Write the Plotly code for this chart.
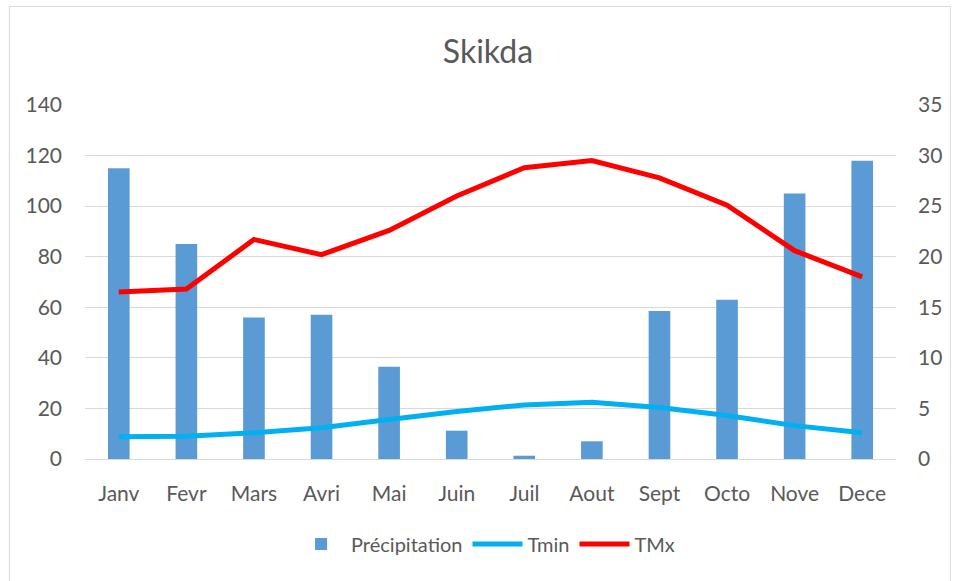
import plotly.graph_objects as go

months = ["Janv", "Fevr", "Mars", "Avri", "Mai", "Juin", "Juil", "Aout", "Sept", "Octo", "Nove", "Dece"]
precipitation = [115, 85, 56, 57, 36.5, 11.2, 1.3, 7, 58.5, 63, 105, 118]
tmin = [2.2, 2.25, 2.6, 3.1, 3.9, 4.7, 5.35, 5.6, 5.1, 4.3, 3.3, 2.6]
tmx = [16.5, 16.8, 21.7, 20.2, 22.6, 26.0, 28.8, 29.5, 27.8, 25.1, 20.6, 18.0]
left_ticks = [0, 20, 40, 60, 80, 100, 120, 140]
right_ticks = [0, 5, 10, 15, 20, 25, 30, 35]

font_family = "Lato, Open Sans, sans-serif"
text_color = "#595959"

fig = go.Figure()
fig.add_trace(go.Bar(x=months, y=precipitation, name="Précipitation",
                     marker=dict(color="#5b9bd5", line=dict(width=0)), width=0.32))
fig.add_trace(go.Scatter(x=months, y=tmin, name="Tmin", mode="lines", yaxis="y2",
                         line=dict(color="#00b0f0", width=5)))
fig.add_trace(go.Scatter(x=months, y=tmx, name="TMx", mode="lines", yaxis="y2",
                         line=dict(color="#ff0000", width=5)))

W, H = 954, 581
L, R, T, B = 85, 49, 105, 122
pw, ph = W - L - R, H - T - B

def px_x(p):
    return (p - L) / pw

def px_y(p):
    return (H - B - p) / ph

fig.update_layout(
    width=W, height=H,
    margin=dict(l=L, r=R, t=T, b=B),
    paper_bgcolor="white", plot_bgcolor="white",
    font=dict(family=font_family, color=text_color, size=20),
    title=dict(text="Skikda", xref="container", x=488 / W, xanchor="center",
               yref="container", y=1 - 52 / H, yanchor="middle",
               font=dict(size=32, color=text_color)),
    xaxis=dict(showgrid=False, showline=True, linecolor="#d9d9d9", linewidth=1,
               ticks="", tickfont=dict(size=21), ticklabelstandoff=16),
    yaxis=dict(range=[0, 140], tickvals=left_ticks, showgrid=True, gridcolor="#d9d9d9",
               gridwidth=1, zeroline=False, showline=False, ticks="",
               tickfont=dict(size=21), ticklabelstandoff=22),
    yaxis2=dict(range=[0, 35], tickvals=right_ticks, overlaying="y", side="right",
                showgrid=False, zeroline=False, showline=False, ticks="",
                tickfont=dict(size=21), ticklabelstandoff=21),
    legend=dict(orientation="h", x=px_x(490), xanchor="center", y=px_y(544), yanchor="middle",
                font=dict(size=20, color=text_color), itemwidth=50, traceorder="normal"),
    bargap=0.5,
    shapes=[dict(type="rect", xref="paper", yref="paper",
                 x0=px_x(8.5), x1=px_x(960), y0=px_y(590), y1=px_y(6.5),
                 line=dict(color="#d9d9d9", width=1), fillcolor="rgba(0,0,0,0)", layer="below")],
)

fig.write_html("out.html", config={"displayModeBar": False},
               post_script="document.body.style.margin='0';document.body.style.overflow='hidden';")
